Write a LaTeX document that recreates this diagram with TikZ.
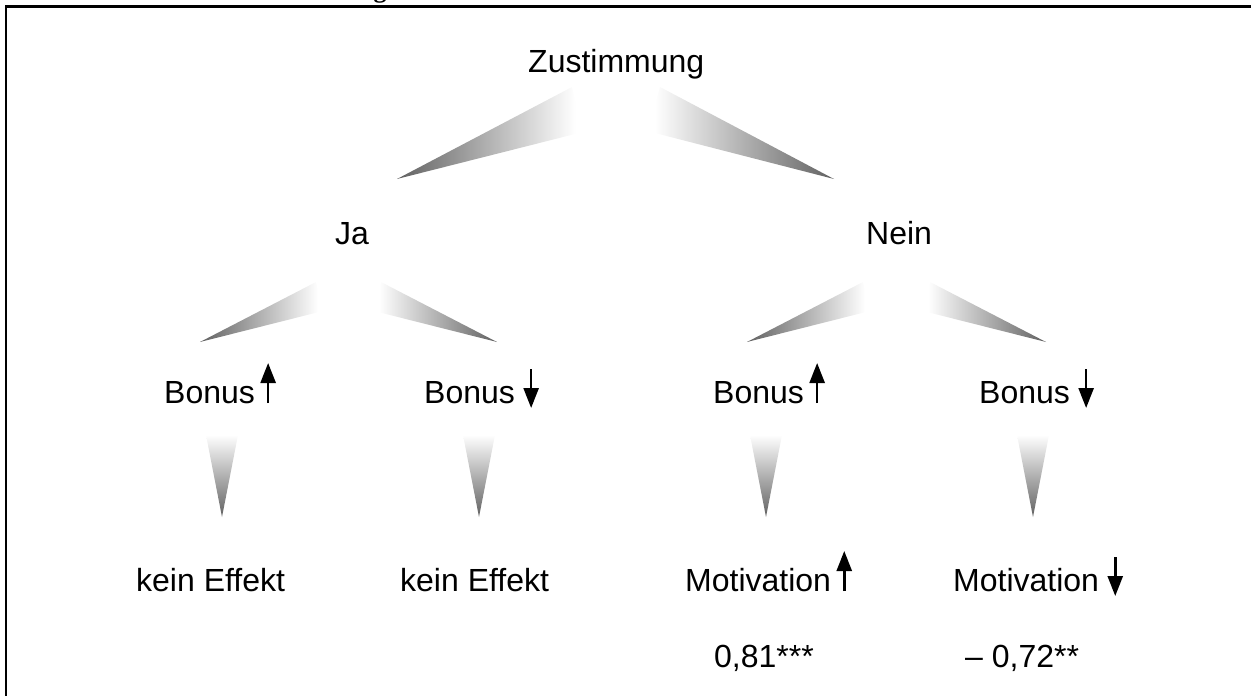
\documentclass[tikz,border=0pt]{standalone}
\usepackage{fontspec}
\setmainfont{Liberation Sans}
\newfontfamily\captionfont{Liberation Serif}
\usetikzlibrary{arrows.meta}

\pgfdeclarehorizontalshading{fadeleft}{100bp}{color(0bp)=(black!62); color(25bp)=(black!62); color(73bp)=(white); color(100bp)=(white)}
\pgfdeclarehorizontalshading{faderight}{100bp}{color(0bp)=(white); color(27bp)=(white); color(75bp)=(black!62); color(100bp)=(black!62)}

\tikzset{
    treetext/.style={font=\fontsize{32}{38}\selectfont, anchor=base west, inner sep=0pt},
    uparrow/.style={line width=2.6pt, -{Triangle[length=20pt,width=15pt]}},
    leftwedge/.style={shading=fadeleft},
    rightwedge/.style={shading=faderight},
    downwedge/.style={top color=white, bottom color=black!62},
}

\begin{document}
\begin{tikzpicture}[x=1pt,y=-1pt]
    \useasboundingbox (0,0) rectangle (1251,696);

    % Draw the frame (cut on the right and at the bottom)
    \draw[line width=2.5pt] (6,696) -- (6,6.5) -- (1251,6.5);
    \node[font=\captionfont\bfseries\fontsize{26}{30}\selectfont, anchor=base, inner sep=0pt] (capg) at (380,-2) {g};

    % Define the labels of the tree
    \node[treetext] (root) at (528,72) {Zustimmung};
    \node[treetext] (ja) at (335,244) {Ja};
    \node[treetext] (nein) at (866,244) {Nein};
    \node[treetext] (b1) at (164,403) {Bonus};
    \node[treetext] (b2) at (424,403) {Bonus};
    \node[treetext] (b3) at (713,403) {Bonus};
    \node[treetext] (b4) at (979,403) {Bonus};
    \node[treetext] (e1) at (136,591) {kein Effekt};
    \node[treetext] (e2) at (400,591) {kein Effekt};
    \node[treetext] (m1) at (685,591) {Motivation};
    \node[treetext] (m2) at (953,591) {Motivation};
    \node[treetext] (v1) at (714,667) {0,81***};
    \node[treetext] (v2) at (965,667) {– 0,72**};

    % Optional: arrows for up and down
    \foreach \n in {b1, b3, m1}
        \draw[uparrow] ([xshift=13pt]\n.base east) -- ++(0,-40);
    \foreach \n in {b2, b4, m2}
        \draw[uparrow] ([xshift=16pt,yshift=34pt]\n.base east) -- ++(0,39);

    % Draw the shaded wedges between the levels
    \shade[leftwedge] (397,179) -- (572,87) -- (583,132) -- cycle;
    \shade[rightwedge] (834,179) -- (660,87) -- (647,131) -- cycle;
    \shade[leftwedge] (200,342) -- (316,282) -- (323,311) -- cycle;
    \shade[rightwedge] (497,342) -- (381,282) -- (374,311) -- cycle;
    \shade[leftwedge] (747,342) -- (863,282) -- (870,311) -- cycle;
    \shade[rightwedge] (1046,342) -- (930,282) -- (923,311) -- cycle;
    \foreach \x in {222, 479, 766, 1033}
        \shade[downwedge] (\x-16,435) -- (\x+16,435) -- (\x,517) -- cycle;

\end{tikzpicture}
\end{document}
